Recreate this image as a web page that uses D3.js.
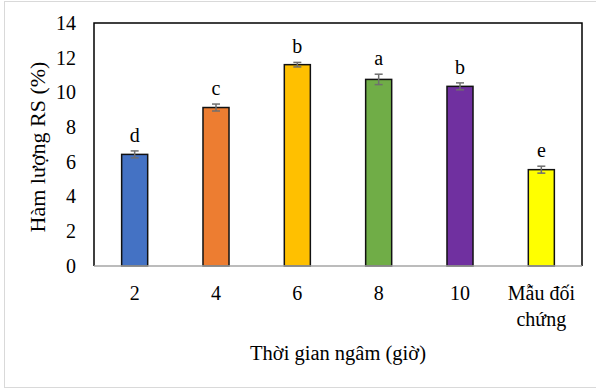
<!DOCTYPE html>
<html>
<head>
<meta charset="utf-8">
<script src="https://cdn.jsdelivr.net/npm/d3@7"></script>
<style>
  html, body { margin: 0; padding: 0; background: #fff; }
  svg { display: block; }
  svg text { font-family: "Liberation Serif", "Times New Roman", Tinos, "DejaVu Serif", serif !important; fill: #000; }
</style>
</head>
<body>
<svg id="chart" width="596" height="388"></svg>
<script>
// Resistant starch content by soaking time
const categories = ["2", "4", "6", "8", "10", "Mẫu đối chứng"];
const categoryLines = [["2"], ["4"], ["6"], ["8"], ["10"], ["Mẫu đối", "chứng"]];
const values = [6.43, 9.13, 11.6, 10.75, 10.35, 5.55];
const errors = [0.2, 0.2, 0.13, 0.3, 0.2, 0.2];
const letters = ["d", "c", "b", "a", "b", "e"];
const colors = ["#4472C4", "#ED7D31", "#FFC000", "#70AD47", "#7030A0", "#FFFF00"];
const yTicks = [0, 2, 4, 6, 8, 10, 12, 14];
const xTitle = "Thời gian ngâm (giờ)";
const yTitle = "Hàm lượng RS (%)";

const FONT = "'Liberation Serif', 'Times New Roman', Tinos, 'DejaVu Serif', serif";
const W = 596, H = 388;
const m = { left: 94, right: 14, top: 23, bottom: 122 };
const svg = d3.select("#chart");

// outer frame
svg.append("rect")
  .attr("x", 4.5).attr("y", 1.5)
  .attr("width", W).attr("height", H - 2)
  .attr("fill", "#fff").attr("stroke", "#d9d9d9").attr("stroke-width", 1);

const x = d3.scaleBand()
  .domain(categories)
  .range([m.left, W - m.right])
  .paddingInner(0.68)
  .paddingOuter(0.34);

const y = d3.scaleLinear()
  .domain([0, 14])
  .range([H - m.bottom, m.top]);

const x0 = m.left, x1 = W - m.right, y0 = y(0), y1 = y(14);

// y tick labels
const yAxis = svg.append("g")
  .attr("transform", `translate(${x0},0)`)
  .call(d3.axisLeft(y).tickValues(yTicks).tickSize(0).tickPadding(18).tickFormat(d3.format("d")))
  .attr("font-family", FONT)
  .attr("font-size", 20);
yAxis.select(".domain").remove();
yAxis.selectAll("text")
  .attr("font-size", 20)
  .attr("font-family", FONT)
  .attr("fill", "#000");

// bars
svg.append("g").selectAll("rect")
  .data(values)
  .join("rect")
  .attr("x", (d, i) => x(categories[i]))
  .attr("y", d => y(d))
  .attr("width", x.bandwidth())
  .attr("height", d => y(0) - y(d))
  .attr("fill", (d, i) => colors[i])
  .attr("stroke", "#111")
  .attr("stroke-width", 1.5);

// error bars
const eg = svg.append("g").attr("stroke", "#6f6f6f").attr("stroke-width", 1.5);
values.forEach((v, i) => {
  const cx = x(categories[i]) + x.bandwidth() / 2;
  const hi = y(v + errors[i]), lo = y(v - errors[i]);
  eg.append("line").attr("x1", cx).attr("x2", cx).attr("y1", hi).attr("y2", lo);
  eg.append("line").attr("x1", cx - 4).attr("x2", cx + 4).attr("y1", hi).attr("y2", hi);
  eg.append("line").attr("x1", cx - 4).attr("x2", cx + 4).attr("y1", lo).attr("y2", lo);
});

// significance letters
svg.append("g").selectAll("text")
  .data(values)
  .join("text")
  .attr("x", (d, i) => x(categories[i]) + x.bandwidth() / 2)
  .attr("y", (d, i) => y(d + errors[i]) - 9)
  .attr("text-anchor", "middle")
  .attr("font-family", FONT)
  .attr("font-size", 20)
  .text((d, i) => letters[i]);

// plot frame: black top/left/right, grey baseline
svg.append("path")
  .attr("d", `M${x0},${y0}V${y1}H${x1}V${y0}`)
  .attr("fill", "none").attr("stroke", "#000").attr("stroke-width", 1.5);
svg.append("line")
  .attr("x1", x0).attr("x2", x1).attr("y1", y0).attr("y2", y0)
  .attr("stroke", "#a6a6a6").attr("stroke-width", 1.5);

// x tick labels
const xl = svg.append("g");
categories.forEach((c, i) => {
  const t = xl.append("text")
    .attr("x", x(c) + x.bandwidth() / 2)
    .attr("y", 300)
    .attr("text-anchor", "middle")
    .attr("font-family", FONT)
    .attr("font-size", 20);
  categoryLines[i].forEach((ln, j) => {
    t.append("tspan").attr("x", x(c) + x.bandwidth() / 2).attr("dy", j === 0 ? 0 : 26).text(ln);
  });
});

// axis titles
svg.append("text")
  .attr("x", (x0 + x1) / 2).attr("y", 360)
  .attr("text-anchor", "middle").attr("font-size", 20.5)
  .attr("font-family", FONT)
  .text(xTitle);

svg.append("text")
  .attr("transform", `translate(45,147) rotate(-90)`)
  .attr("text-anchor", "middle").attr("font-size", 22)
  .attr("font-family", FONT)
  .text(yTitle);
</script>
</body>
</html>
